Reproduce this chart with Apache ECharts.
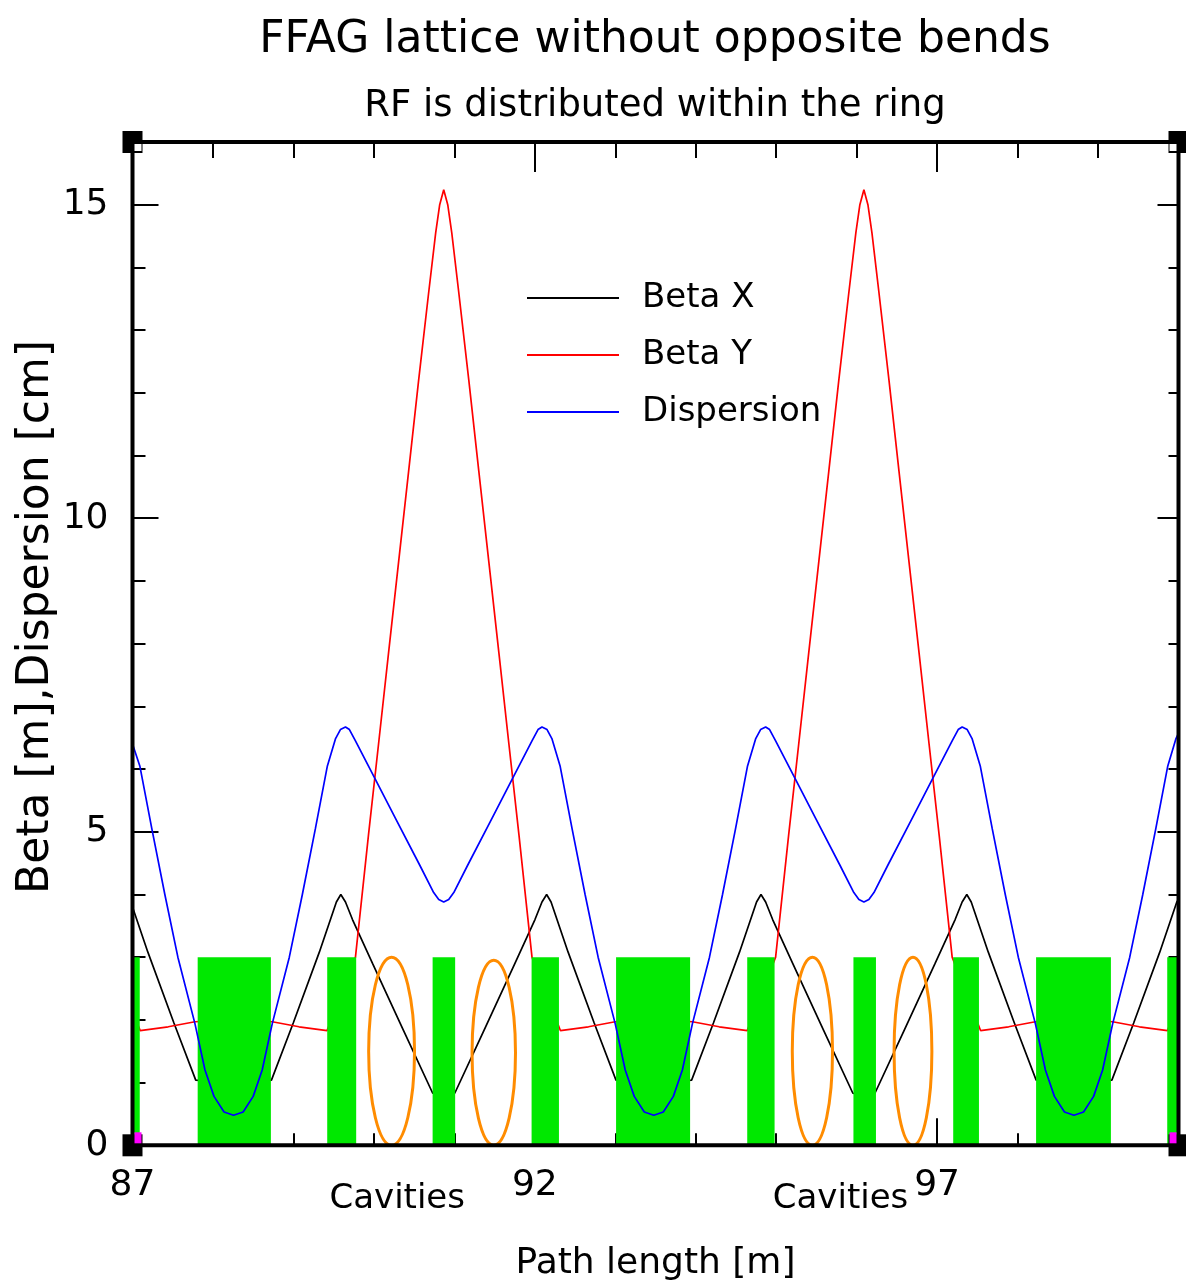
<!DOCTYPE html>
<html>
<head>
<meta charset="utf-8">
<script src="https://cdn.jsdelivr.net/npm/echarts@6/dist/echarts.min.js"></script>
<style>
html,body{margin:0;padding:0;background:#fff;}
#chart{width:1186px;height:1288px;}
</style>
</head>
<body>
<div id="chart"></div>
<script>
// ---------------- data ----------------
const titleText = 'FFAG lattice without opposite bends';
const subtitleText = 'RF is distributed within the ring';
const xAxisName = 'Path length [m]';
const yAxisName = 'Beta [m],Dispersion [cm]';
const seriesNames = ['Beta X', 'Beta Y', 'Dispersion'];
const xTickLabels = ['87', '92', '97'];
const yTickLabels = ['0', '5', '10', '15'];

const betaX = [[87.0,3.80],[87.191,3.08],[87.515,1.95],[87.786,1.04],[88.256,1.0],[88.727,1.04],[88.998,1.95],[89.322,3.08],[89.534,3.88],[89.589,4.0],[89.647,3.88],[89.734,3.60],[89.983,2.90],[90.369,1.83],[90.731,0.83],[90.868,0.80],[91.005,0.83],[91.367,1.83],[91.753,2.90],[92.002,3.60],[92.089,3.88],[92.147,4.0],[92.202,3.88],[92.414,3.08],[92.738,1.95],[93.009,1.04],[93.479,1.0],[93.949,1.04],[94.220,1.95],[94.544,3.08],[94.756,3.88],[94.811,4.0],[94.869,3.88],[94.956,3.60],[95.205,2.90],[95.591,1.83],[95.953,0.83],[96.090,0.80],[96.227,0.83],[96.589,1.83],[96.975,2.90],[97.224,3.60],[97.311,3.88],[97.369,4.0],[97.424,3.88],[97.636,3.08],[97.960,1.95],[98.231,1.04],[98.701,1.0],[99.172,1.04],[99.443,1.95],[99.767,3.08],[99.979,3.88],[100.0,3.92]];

const betaY = [[87.0,2.15],[87.095,1.83],[87.444,1.89],[87.776,1.97],[88.256,2.0],[88.737,1.97],[89.069,1.89],[89.418,1.83],[89.771,3.0],[89.933,4.95],[90.058,6.4],[90.182,7.85],[90.307,9.3],[90.432,10.75],[90.556,12.2],[90.681,13.6],[90.768,14.55],[90.818,15.0],[90.868,15.24],[90.918,15.0],[90.968,14.55],[91.055,13.6],[91.180,12.2],[91.304,10.75],[91.429,9.3],[91.554,7.85],[91.678,6.4],[91.803,4.95],[91.965,3.0],[92.318,1.83],[92.667,1.89],[92.999,1.97],[93.479,2.0],[93.959,1.97],[94.291,1.89],[94.640,1.83],[94.993,3.0],[95.155,4.95],[95.280,6.4],[95.404,7.85],[95.529,9.3],[95.654,10.75],[95.778,12.2],[95.903,13.6],[95.990,14.55],[96.040,15.0],[96.090,15.24],[96.140,15.0],[96.190,14.55],[96.277,13.6],[96.402,12.2],[96.526,10.75],[96.651,9.3],[96.776,7.85],[96.900,6.4],[97.025,4.95],[97.187,3.0],[97.540,1.83],[97.889,1.89],[98.221,1.97],[98.701,2.0],[99.182,1.97],[99.514,1.89],[99.863,1.83],[100.0,2.28]];

const dispersion = [[87.0,6.40],[87.091,6.05],[87.240,5.05],[87.402,4.0],[87.564,3.0],[87.776,1.94],[87.901,1.2],[88.013,0.78],[88.138,0.53],[88.256,0.48],[88.375,0.53],[88.500,0.78],[88.612,1.2],[88.737,1.94],[88.949,3.0],[89.111,4.0],[89.273,5.05],[89.422,6.05],[89.522,6.48],[89.584,6.63],[89.647,6.67],[89.696,6.63],[89.771,6.45],[89.996,5.89],[90.270,5.21],[90.569,4.47],[90.743,4.03],[90.806,3.92],[90.868,3.88],[90.930,3.92],[90.993,4.03],[91.167,4.47],[91.466,5.21],[91.740,5.89],[91.965,6.45],[92.040,6.63],[92.089,6.67],[92.152,6.63],[92.214,6.48],[92.314,6.05],[92.463,5.05],[92.625,4.0],[92.787,3.0],[92.999,1.94],[93.124,1.2],[93.236,0.78],[93.361,0.53],[93.479,0.48],[93.597,0.53],[93.722,0.78],[93.834,1.2],[93.959,1.94],[94.171,3.0],[94.333,4.0],[94.495,5.05],[94.644,6.05],[94.744,6.48],[94.806,6.63],[94.869,6.67],[94.918,6.63],[94.993,6.45],[95.218,5.89],[95.492,5.21],[95.791,4.47],[95.965,4.03],[96.028,3.92],[96.090,3.88],[96.152,3.92],[96.215,4.03],[96.389,4.47],[96.688,5.21],[96.962,5.89],[97.187,6.45],[97.262,6.63],[97.311,6.67],[97.374,6.63],[97.436,6.48],[97.536,6.05],[97.685,5.05],[97.847,4.0],[98.009,3.0],[98.221,1.94],[98.346,1.2],[98.458,0.78],[98.583,0.53],[98.701,0.48],[98.820,0.53],[98.945,0.78],[99.057,1.2],[99.182,1.94],[99.394,3.0],[99.556,4.0],[99.718,5.05],[99.867,6.05],[99.967,6.48],[100.0,6.57]];

// lattice magnets (green blocks): start, end [m], height
const magnetStart = [87.0, 87.81, 89.42, 90.73, 91.96, 93.01, 94.64, 95.96, 97.20, 98.23, 99.86];
const magnetEnd   = [87.09, 88.72, 89.78, 91.01, 92.30, 93.93, 94.98, 96.24, 97.52, 99.16, 100.0];
const magnetHeight = 3.0;

// RF cavities (orange ellipses): centre [m], half width [m], height
const cavityCenter = [90.22, 91.49, 95.45, 96.70];
const cavityHalfWidth = [0.285, 0.27, 0.25, 0.235];
const cavityHeight = [3.0, 2.95, 3.0, 3.0];
const cavityLabelX = [90.29, 95.80];
const cavityLabel = 'Cavities';

const xMin = 87, xMax = 100, yMin = 0, yMax = 16;

// ---------------- chart ----------------
const FONT = '"DejaVu Sans", "Liberation Sans", sans-serif';
const GREEN = '#00e800';
const ORANGE = '#ff8c00';

const chart = echarts.init(document.getElementById('chart'), null, {renderer: 'canvas'});

function tickAxis(grid, pos, interval, len, extra) {
  const vertical = (pos === 'left' || pos === 'right');
  return Object.assign({
    type: 'value', gridIndex: grid, position: pos,
    min: vertical ? yMin : xMin, max: vertical ? yMax : xMax, interval: interval,
    axisLine: {show: false, onZero: false},
    axisTick: {show: true, inside: true, length: len, lineStyle: {color: '#000', width: 2}},
    axisLabel: {show: false},
    splitLine: {show: false}
  }, extra || {});
}

const magnetData = magnetStart.map((s, i) => [s, magnetEnd[i], magnetHeight]);
const cavityData = cavityCenter.map((c, i) => [c, cavityHalfWidth[i], cavityHeight[i]]);
const cornerData = [[xMin, yMax, '#ffffff'], [xMax, yMax, '#ffffff'], [xMin, yMin, '#ff00ff'], [xMax, yMin, '#ff00ff']];

const gridRect = {left: 132.5, right: 7.5, top: 142, bottom: 142.7};

const option = {
  backgroundColor: '#ffffff',
  animation: false,
  title: [
    {text: titleText, left: 655, top: 19, textAlign: 'center', padding: 0,
     textStyle: {fontFamily: FONT, fontSize: 44, fontWeight: 'normal', color: '#000'}},
    {text: subtitleText, left: 655, top: 88, textAlign: 'center', padding: 0,
     textStyle: {fontFamily: FONT, fontSize: 37, fontWeight: 'normal', color: '#000'}}
  ],
  legend: {
    data: seriesNames, orient: 'vertical', left: 527, top: 278, padding: 0,
    icon: 'rect', itemWidth: 92, itemHeight: 2, itemGap: 17, selectedMode: false,
    textStyle: {fontFamily: FONT, fontSize: 34, lineHeight: 40, color: '#000', padding: [0, 0, 0, 18]}
  },
  grid: [
    Object.assign({show: true, borderColor: '#000', borderWidth: 4, backgroundColor: 'transparent', z: 10}, gridRect),
    Object.assign({show: false}, gridRect)
  ],
  xAxis: [
    tickAxis(0, 'bottom', 1, 12, {
      name: xAxisName, nameLocation: 'middle', nameGap: 100,
      nameTextStyle: {fontFamily: FONT, fontSize: 36, color: '#000'}
    }),
    tickAxis(0, 'top', 1, 16),
    tickAxis(1, 'bottom', 5, 27, {
      axisLabel: {show: true, margin: 22, fontFamily: FONT, fontSize: 36, color: '#000',
        formatter: v => xTickLabels.indexOf(String(v)) >= 0 ? String(v) : ''}
    }),
    tickAxis(1, 'top', 5, 30)
  ],
  yAxis: [
    tickAxis(0, 'left', 1, 13),
    tickAxis(0, 'right', 1, 10),
    tickAxis(1, 'left', 5, 26, {
      axisLabel: {show: true, margin: 24, fontFamily: FONT, fontSize: 36, color: '#000',
        formatter: v => yTickLabels.indexOf(String(v)) >= 0 ? String(v) : ''}
    }),
    tickAxis(1, 'right', 5, 21)
  ],
  graphic: [
    {type: 'text', x: 37, y: 617, rotation: Math.PI / 2, silent: true,
     style: {text: yAxisName, font: '44px ' + FONT, fill: '#000', align: 'center', verticalAlign: 'middle'}}
  ],
  series: [
    {name: 'Beta X', type: 'line', xAxisIndex: 0, yAxisIndex: 0, data: betaX, showSymbol: false, symbol: 'none', z: 1,
     lineStyle: {color: '#000000', width: 1.7}, itemStyle: {color: '#000000'}},
    {name: 'Beta Y', type: 'line', xAxisIndex: 0, yAxisIndex: 0, data: betaY, showSymbol: false, symbol: 'none', z: 1,
     lineStyle: {color: '#ff0000', width: 1.7}, itemStyle: {color: '#ff0000'}},
    {name: 'Magnets', type: 'custom', xAxisIndex: 0, yAxisIndex: 0, data: magnetData, z: 2, silent: true,
     renderItem: (params, api) => {
       const p0 = api.coord([api.value(0), api.value(2)]);
       const p1 = api.coord([api.value(1), 0]);
       return {type: 'rect', shape: {x: p0[0], y: p0[1], width: p1[0] - p0[0], height: p1[1] - p0[1]},
               style: {fill: GREEN}};
     }},
    {name: 'Dispersion', type: 'line', xAxisIndex: 0, yAxisIndex: 0, data: dispersion, showSymbol: false, symbol: 'none', z: 3,
     lineStyle: {color: '#0000ff', width: 1.7}, itemStyle: {color: '#0000ff'}},
    {name: 'Cavities', type: 'custom', xAxisIndex: 0, yAxisIndex: 0, data: cavityData, z: 4, silent: true,
     renderItem: (params, api) => {
       const h = api.value(2);
       const c = api.coord([api.value(0), h / 2]);
       const s = api.size([api.value(1), h / 2]);
       return {type: 'ellipse', shape: {cx: c[0], cy: c[1], rx: s[0], ry: s[1]},
               style: {fill: 'none', stroke: ORANGE, lineWidth: 3}};
     }},
    {name: 'CavityLabels', type: 'custom', xAxisIndex: 0, yAxisIndex: 0, data: cavityLabelX.map(x => [x, 0]), z: 4, silent: true,
     renderItem: (params, api) => {
       const p = api.coord([api.value(0), api.value(1)]);
       return {type: 'text', x: p[0], y: p[1] + 54,
               style: {text: cavityLabel, font: '34px ' + FONT, fill: '#000', align: 'center', verticalAlign: 'middle'}};
     }},
    {name: 'Corners', type: 'custom', xAxisIndex: 0, yAxisIndex: 0, data: cornerData, z: 11, silent: true,
     renderItem: (params, api) => {
       const x = api.value(0), y = api.value(1);
       const p = api.coord([x, y]);
       const dx = x === xMin ? 1 : -1;
       const dy = y === yMax ? 1 : -1;
       const ih = y === yMax ? 7 : 11;
       const ix = dx > 0 ? p[0] + 2 : p[0] - 9;
       const iy = dy > 0 ? p[1] + 2 : p[1] - 2 - ih;
       return {type: 'group', children: [
         {type: 'rect', shape: {x: p[0] - 10, y: p[1] - 11, width: 20, height: 22}, style: {fill: '#000'}},
         {type: 'rect', shape: {x: ix, y: iy, width: 7, height: ih}, style: {fill: cornerData[params.dataIndex][2]}}
       ]};
     }}
  ]
};
chart.setOption(option);
</script>
</body>
</html>
